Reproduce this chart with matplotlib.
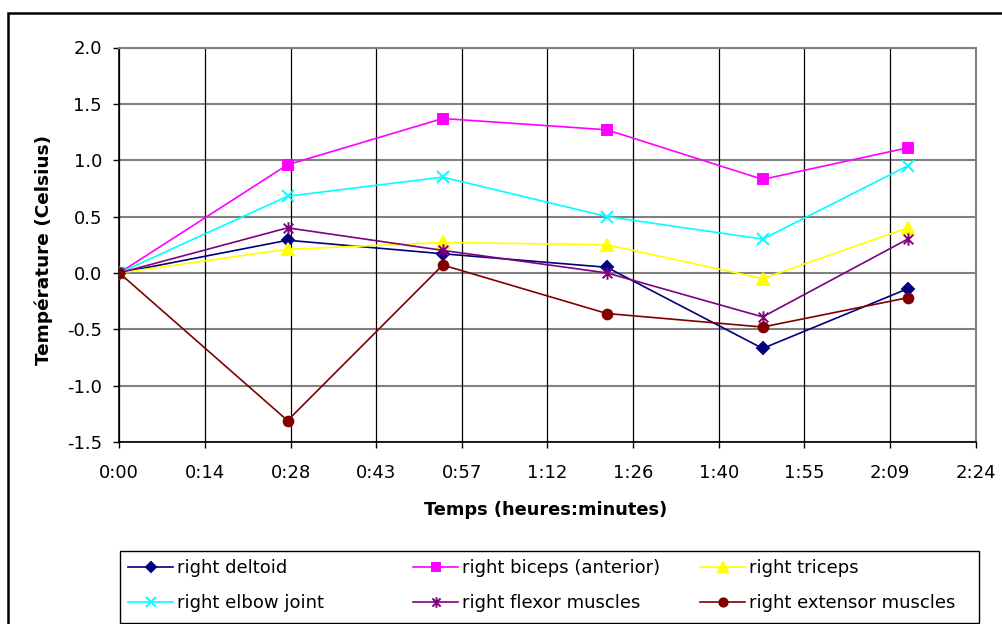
import matplotlib
matplotlib.use("Agg")
import matplotlib.pyplot as plt
from matplotlib.path import Path
from matplotlib.patches import Rectangle

# time in minutes since start
minutes = [0, 28.3, 54.4, 82.0, 108.2, 132.6]

deltoid = [0.0, 0.29, 0.17, 0.05, -0.67, -0.14]
biceps = [0.0, 0.96, 1.37, 1.27, 0.83, 1.11]
triceps = [0.0, 0.21, 0.27, 0.25, -0.05, 0.40]
elbow = [0.0, 0.68, 0.85, 0.50, 0.30, 0.95]
flexor = [0.0, 0.40, 0.20, 0.00, -0.39, 0.30]
extensor = [0.0, -1.31, 0.07, -0.36, -0.48, -0.22]

x_ticks = [0, 14.4, 28.8, 43.2, 57.6, 72, 86.4, 100.8, 115.2, 129.6, 144]
x_tick_labels = ["0:00", "0:14", "0:28", "0:43", "0:57", "1:12", "1:26", "1:40", "1:55", "2:09", "2:24"]
y_ticks = [-1.5, -1.0, -0.5, 0.0, 0.5, 1.0, 1.5, 2.0]

# excel style asterisk: an x plus a vertical bar
star = Path([(-1, -1), (1, 1), (-1, 1), (1, -1), (0, -1.3), (0, 1.3)],
            [Path.MOVETO, Path.LINETO, Path.MOVETO, Path.LINETO, Path.MOVETO, Path.LINETO])

series = [
    ("right deltoid", deltoid, "#000080", "D", 6.5),
    ("right biceps (anterior)", biceps, "#FF00FF", "s", 7),
    ("right triceps", triceps, "#FFFF00", "^", 8.5),
    ("right elbow joint", elbow, "#00FFFF", "x", 8),
    ("right flexor muscles", flexor, "#800080", star, 9),
    ("right extensor muscles", extensor, "#800000", "o", 7),
]

plt.rcParams["font.family"] = "DejaVu Sans"

fig = plt.figure(figsize=(10.02, 6.24), dpi=100)
ax = fig.add_axes([119.3 / 1002, 1 - 442 / 624, (975.5 - 119.3) / 1002, (442 - 47.5) / 624])

lines = []
for label, vals, col, mk, ms in series:
    l, = ax.plot(minutes, vals, color=col, lw=1.2, marker=mk, markersize=ms,
                 markerfacecolor=col, markeredgecolor=col, markeredgewidth=1.4,
                 label=label, zorder=3)
    lines.append(l)

ax.set_xlim(0, 144)
ax.set_ylim(-1.5, 2.0)
ax.set_xticks(x_ticks)
ax.set_xticklabels(x_tick_labels)
ax.set_yticks(y_ticks)
ax.set_yticklabels(["%.1f" % v for v in y_ticks])

for v in y_ticks:
    ax.axhline(v, color="#808080", lw=1.5, zorder=1)
for v in x_ticks:
    ax.axvline(v, color="black", lw=0.9, zorder=1)

ax.spines["top"].set_color("#808080")
ax.spines["right"].set_color("#808080")
ax.spines["top"].set_linewidth(1.5)
ax.spines["right"].set_linewidth(1.5)
ax.spines["left"].set_linewidth(1.2)
ax.spines["bottom"].set_linewidth(1.2)

ax.tick_params(axis="y", direction="out", length=4.5, width=1, pad=8, labelsize=13)
ax.tick_params(axis="x", direction="out", length=4, width=1, pad=12, labelsize=13)

fig.text(546 / 1002, 1 - 510 / 624, "Temps (heures:minutes)", fontsize=12.8,
         fontweight="bold", ha="center", va="center")
fig.text(44 / 1002, 1 - 250 / 624, "Température (Celsius)", fontsize=13.3,
         fontweight="bold", ha="center", va="center", rotation=90)

# excel legend: equal width columns, filled row by row -> one legend per column
col_x = [128, 413, 700]
for c in range(3):
    idx = [c, c + 3]
    leg = fig.legend([lines[i] for i in idx], [series[i][0] for i in idx],
                     loc="upper left", bbox_to_anchor=(col_x[c] / 1002, 1 - 559 / 624),
                     borderaxespad=0, borderpad=0, fontsize=13, frameon=False,
                     handlelength=2.5, handletextpad=0.2, labelspacing=0.95,
                     markerscale=0.85)

fig.patches.append(Rectangle((120 / 1002, 1 - 623 / 624), (979 - 120) / 1002, (623 - 551) / 624,
                             transform=fig.transFigure, fill=False, edgecolor="black", lw=1.0))

# outer chart border (cut off at right and bottom)
fig.patches.append(Rectangle((8 / 1002, -0.1), 1.2, 1.1 - 13 / 624, transform=fig.transFigure,
                             fill=False, edgecolor="black", lw=1.8))

fig.savefig("out.png", dpi=100)
